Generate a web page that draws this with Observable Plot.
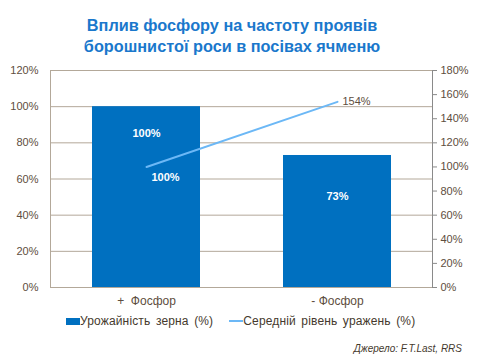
<!DOCTYPE html>
<html>
<head>
<meta charset="utf-8">
<script src="https://cdn.jsdelivr.net/npm/d3@7"></script>
<script src="https://cdn.jsdelivr.net/npm/@observablehq/plot@0.6"></script>
<style>
  body { margin: 0; background: #fff; }
  #wrap { position: relative; width: 480px; height: 360px; font-family: "Liberation Sans", Arial, sans-serif; overflow: hidden; }
  #title { position: absolute; left: 0; width: 464px; top: 15px; text-align: center; color: #1a78cc; font-weight: bold; font-size: 16.3px; line-height: 21px; }
  #legend { position: absolute; top: 314px; left: 66px; font-size: 12px; color: #45392d; display: flex; align-items: center; white-space: nowrap; word-spacing: 2px; letter-spacing: 0.15px; }
  #legend .sw { display: inline-block; }
  #source { position: absolute; right: 18px; top: 343px; font-size: 10px; font-style: italic; color: #45392d; }
  #chart { position: absolute; left: 0; top: 0; }
</style>
</head>
<body>
<div id="wrap">
  <div id="chart"></div>
  <div id="title">Вплив фосфору на частоту проявів<br>борошнистої роси в посівах ячменю</div>
  <div id="legend">
    <span class="sw" style="width:14px;height:7px;background:#0070c0;"></span><span>Урожайність зерна (%)</span>
    <span class="sw" style="width:14px;height:2px;background:#6cb8f6;margin-left:16px;"></span><span>Середній рівень уражень (%)</span>
  </div>
  <div id="source">Джерело: F.T.Last, RRS</div>
</div>
<script>
const categories = ["+  Фосфор", "- Фосфор"];
const yieldValues = [100, 73];          // left axis, %
const infectionValues = [100, 154];     // right axis, %
const leftTicks = [0, 20, 40, 60, 80, 100, 120];
const rightTicks = [0, 20, 40, 60, 80, 100, 120, 140, 160, 180];

const k = 120 / 180; // right -> left units
const bars = categories.map((c, i) => ({cat: c, v: yieldValues[i]}));
const line = categories.map((c, i) => ({cat: c, v: infectionValues[i] * k, raw: infectionValues[i]}));

const grid = "#b3a899";
const txt = "#5e4e40";

const chart = Plot.plot({
  width: 480,
  height: 360,
  marginTop: 70,
  marginBottom: 73,
  marginLeft: 50,
  marginRight: 48,
  style: {fontFamily: "Liberation Sans, Arial, sans-serif", fontSize: "11px", background: "transparent", color: txt},
  x: {domain: categories, paddingInner: 0.435, paddingOuter: 0.2175, label: null},
  y: {domain: [0, 120], label: null},
  marks: [
    Plot.ruleY(leftTicks, {stroke: grid, strokeWidth: 1}),
    Plot.frame({anchor: "left", stroke: grid}),
    Plot.barY(bars, {x: "cat", y: "v", fill: "#0070c0"}),
    Plot.lineY(line, {x: "cat", y: "v", stroke: "#6cb8f6", strokeWidth: 2}),
    Plot.text(bars.slice(0, 1), {x: "cat", y: "v", text: d => d.v + "%", dy: 27, fill: "white", fontWeight: "bold", fontSize: 11}),
    Plot.text(bars.slice(1), {x: "cat", y: "v", text: d => d.v + "%", dy: 41, fill: "white", fontWeight: "bold", fontSize: 11}),
    Plot.text(line.slice(0, 1), {x: "cat", y: "v", text: d => d.raw + "%", dx: 19, dy: 11, fill: "white", fontWeight: "bold", fontSize: 11}),
    Plot.text(line.slice(1), {x: "cat", y: "v", text: d => d.raw + "%", dx: 5, dy: 0, textAnchor: "start", fill: txt, fontSize: 11}),
    Plot.axisY({anchor: "left", ticks: leftTicks, tickSize: 0, tickPadding: 12, tickFormat: d => d + "%", label: null, fill: txt, fontSize: 11}),
    Plot.axisY({anchor: "right", ticks: rightTicks.map(t => t * k), tickSize: 4, tickPadding: 4, tickFormat: d => Math.round(d / k) + "%", label: null, stroke: "#8a8a8a", fill: txt, fontSize: 11}),
    Plot.frame({anchor: "right", stroke: "#8a8a8a"}),
    Plot.axisX({tickSize: 0, tickPadding: 9, label: null, fill: txt, fontSize: 12})
  ]
});
document.getElementById("chart").appendChild(chart);
</script>
</body>
</html>
